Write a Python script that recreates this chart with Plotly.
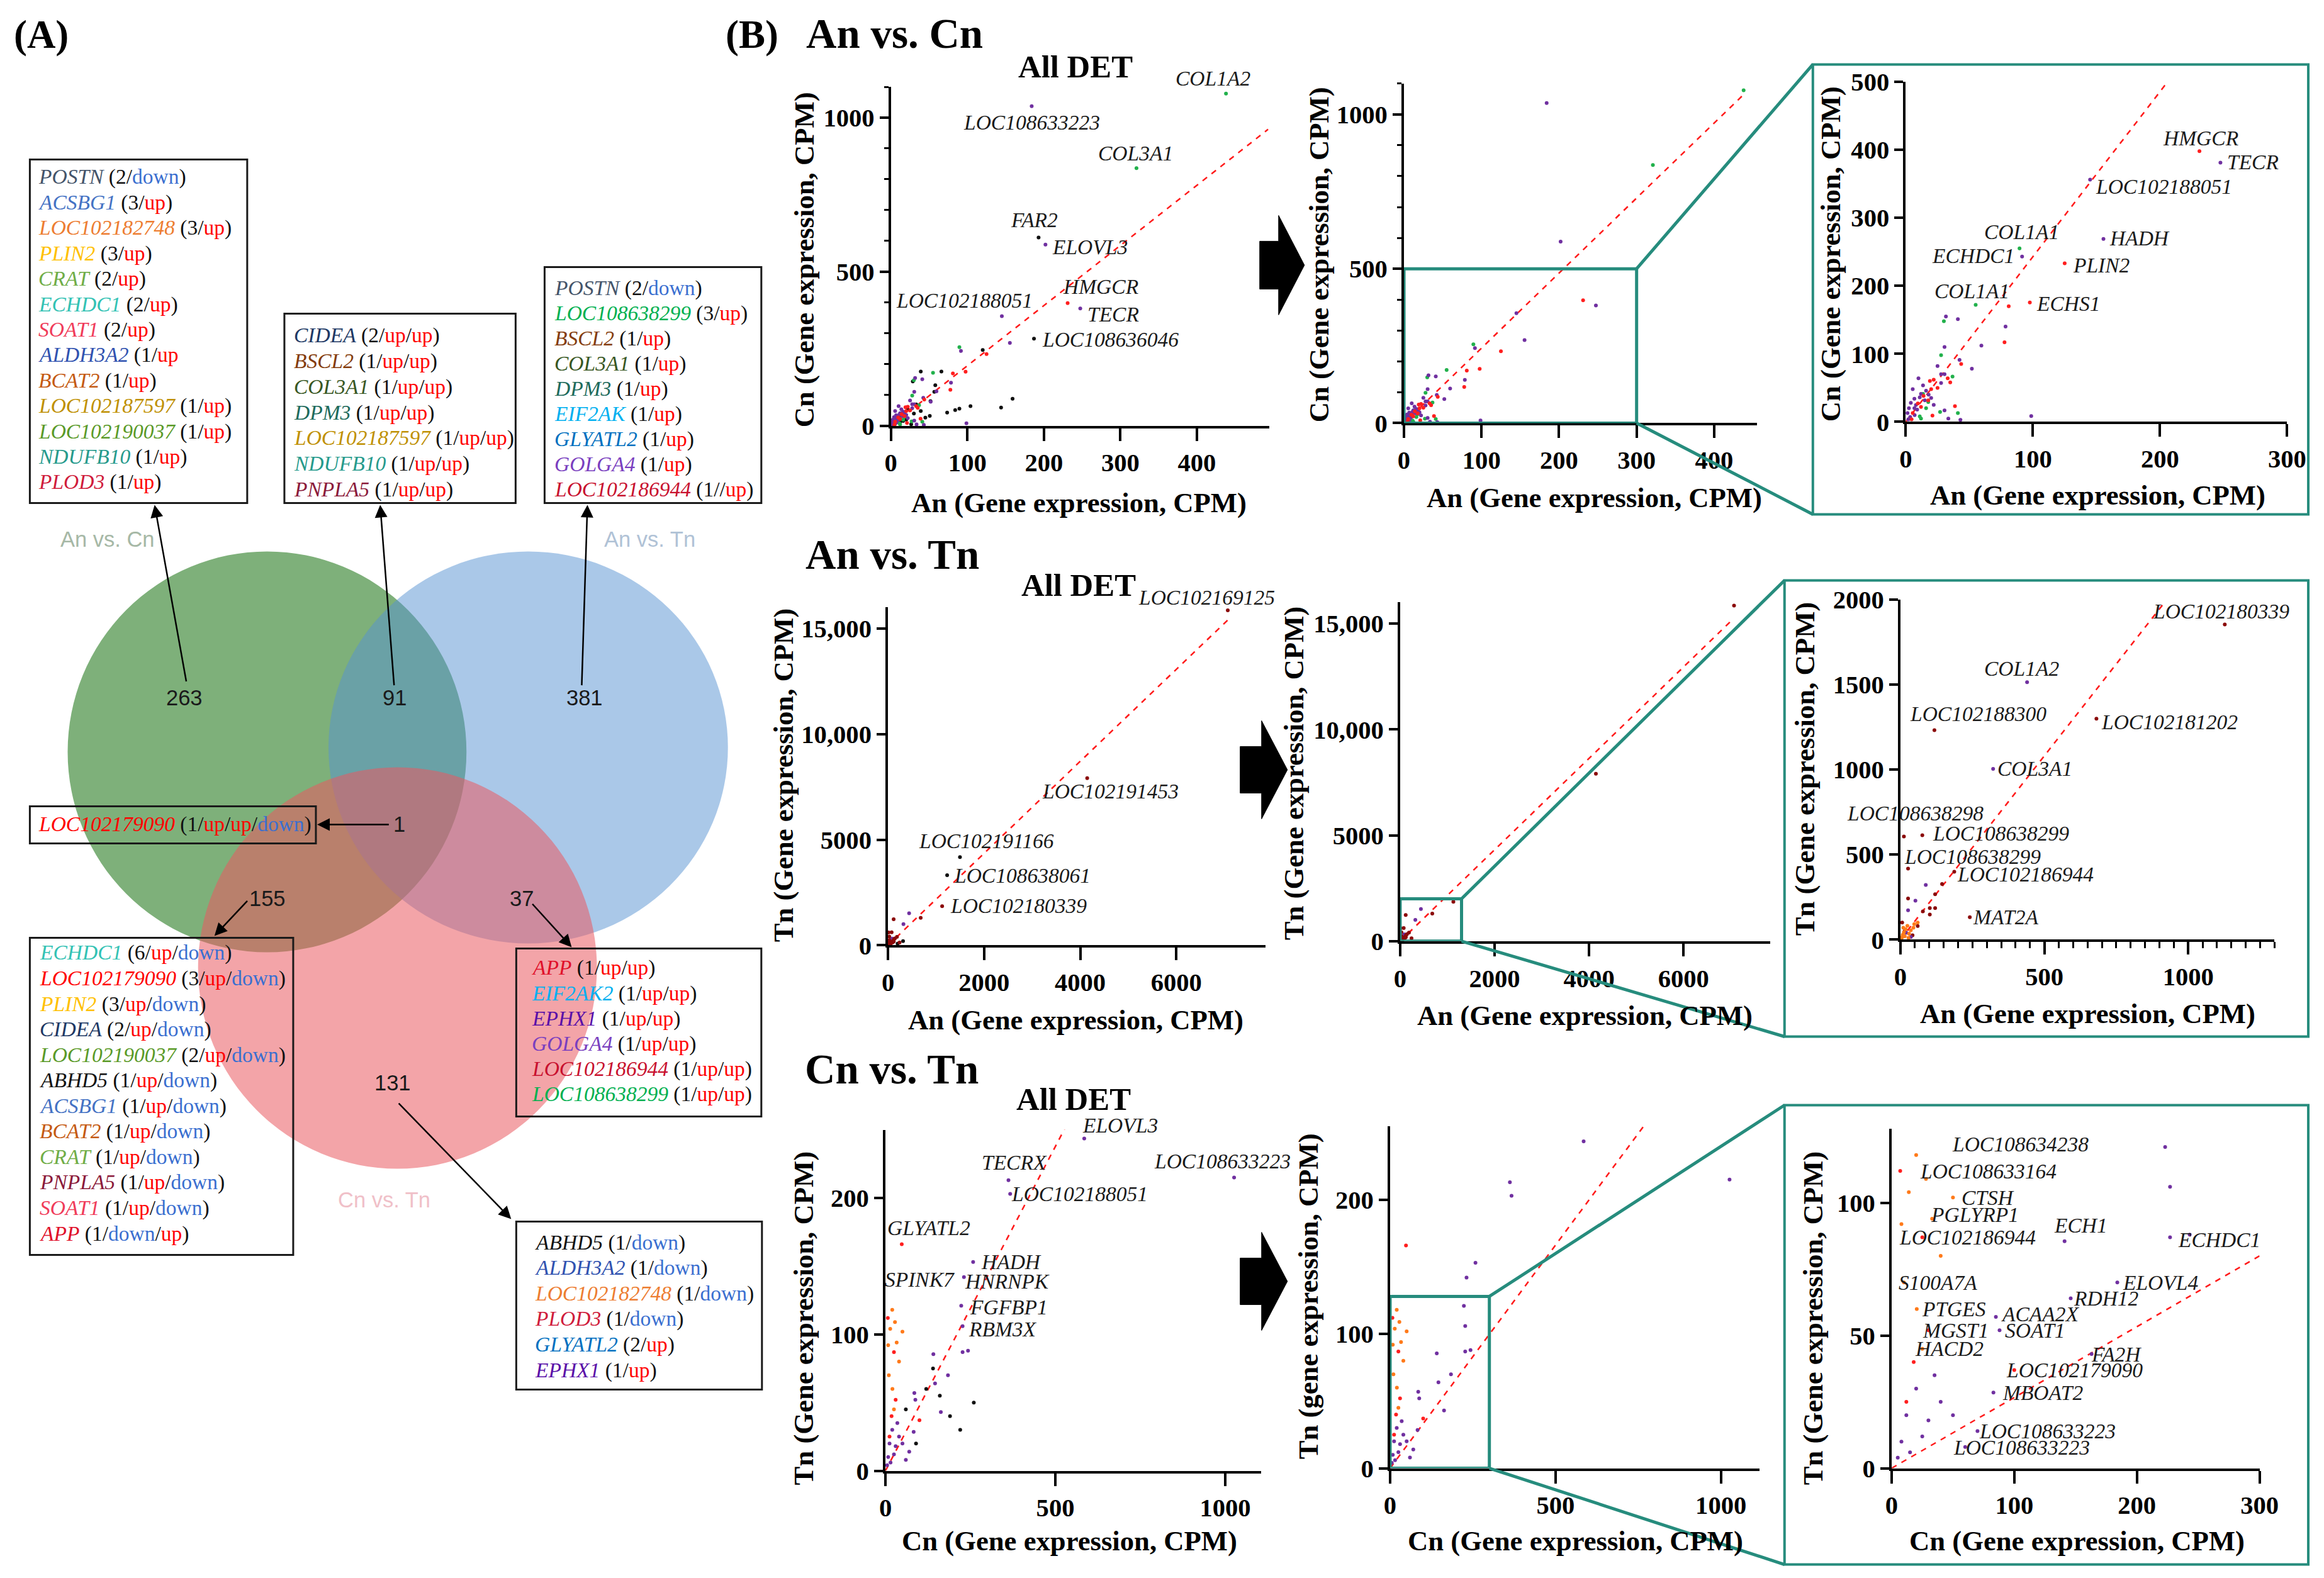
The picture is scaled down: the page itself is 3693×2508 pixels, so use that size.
import re
import plotly.graph_objects as go

W, H = 3693, 2508
# measured photo transform of this page (photo_px = S * figure_px + O); positions below are
# target positions in the photographed picture and are mapped back through it.
SX, OX = 0.988, 18.6
SY, OY = 0.982, 30.6
FS = 1 / 0.985

SERIF = "Liberation Serif, Times New Roman, serif"
SANS = "Liberation Sans Narrow, Arial Narrow, Liberation Sans, Arial, sans-serif"
UP_C, DOWN_C = "#ff0000", "#3a6fd0"
TEAL = "#268c7d"
C_PURPLE, C_GREEN, C_RED, C_BLACK = "#7030a0", "#22b14c", "#ff1f1f", "#111111"
C_DRED, C_ORANGE = "#8b0a0a", "#ff7a1a"

# ================= (A) Venn diagram data =================
venn_names = ["An vs. Cn", "An vs. Tn", "Cn vs. Tn"]
venn_counts = ["263", "91", "381", "1", "155", "37", "131"]

box_ac_genes = ["POSTN", "ACSBG1", "LOC102182748", "PLIN2", "CRAT", "ECHDC1", "SOAT1",
                "ALDH3A2", "BCAT2", "LOC102187597", "LOC102190037", "NDUFB10", "PLOD3"]
box_ac_tags = ["(2/down)", "(3/up)", "(3/up)", "(3/up)", "(2/up)", "(2/up)", "(2/up)",
               "(1/up", "(1/up)", "(1/up)", "(1/up)", "(1/up)", "(1/up)"]
box_acat_genes = ["CIDEA", "BSCL2", "COL3A1", "DPM3", "LOC102187597", "NDUFB10", "PNPLA5"]
box_acat_tags = ["(2/up/up)", "(1/up/up)", "(1/up/up)", "(1/up/up)", "(1/up/up)", "(1/up/up)", "(1/up/up)"]
box_at_genes = ["POSTN", "LOC108638299", "BSCL2", "COL3A1", "DPM3", "EIF2AK", "GLYATL2", "GOLGA4", "LOC102186944"]
box_at_tags = ["(2/down)", "(3/up)", "(1/up)", "(1/up)", "(1/up)", "(1/up)", "(1/up)", "(1/up)", "(1//up)"]
box_all_genes = ["LOC102179090"]
box_all_tags = ["(1/up/up/down)"]
box_acct_genes = ["ECHDC1", "LOC102179090", "PLIN2", "CIDEA", "LOC102190037", "ABHD5", "ACSBG1",
                  "BCAT2", "CRAT", "PNPLA5", "SOAT1", "APP"]
box_acct_tags = ["(6/up/down)", "(3/up/down)", "(3/up/down)", "(2/up/down)", "(2/up/down)", "(1/up/down)",
                 "(1/up/down)", "(1/up/down)", "(1/up/down)", "(1/up/down)", "(1/up/down)", "(1/down/up)"]
box_atct_genes = ["APP", "EIF2AK2", "EPHX1", "GOLGA4", "LOC102186944", "LOC108638299"]
box_atct_tags = ["(1/up/up)", "(1/up/up)", "(1/up/up)", "(1/up/up)", "(1/up/up)", "(1/up/up)"]
box_ct_genes = ["ABHD5", "ALDH3A2", "LOC102182748", "PLOD3", "GLYATL2", "EPHX1"]
box_ct_tags = ["(1/down)", "(1/down)", "(1/down)", "(1/down)", "(2/up)", "(1/up)"]

gene_colors = {
    "POSTN": "#44546a", "ACSBG1": "#4472c4", "LOC102182748": "#ed7d31", "PLIN2": "#ffc000",
    "CRAT": "#70ad47", "ECHDC1": "#33c2b4", "SOAT1": "#f03c5a", "ALDH3A2": "#3052b0",
    "BCAT2": "#c55a11", "LOC102187597": "#bf9000", "LOC102190037": "#5a9a28", "NDUFB10": "#269a8c",
    "PLOD3": "#d01c3c", "CIDEA": "#203864", "BSCL2": "#843c0c", "COL3A1": "#385723",
    "DPM3": "#1e6b5c", "PNPLA5": "#8b1a3a", "LOC108638299": "#00b050", "EIF2AK": "#00b0f0",
    "EIF2AK2": "#00b0f0", "GLYATL2": "#0070c0", "GOLGA4": "#7a3fbf", "LOC102186944": "#c8102e",
    "LOC102179090": "#ff0000", "ABHD5": "#111111", "APP": "#e0102a", "EPHX1": "#5a10a8",
}

# ================= (B) scatter data =================
# --- An vs. Cn ---
ac_green_x = [438, 321, 89.5, 55, 30, 27.8, 36.8, 41, 27, 13.6, 17.7, 12, 11, 16]
ac_green_y = [1078, 836, 255, 172, 148, 98, 66.6, 13, 14.4, 41, 29, 4.7, 8, 20]
ac_purple_x = [184, 202, 247.5, 145, 155.5, 91.5, 78.5, 59.5, 52, 31.6, 41, 30.5, 42.3, 25, 27.8, 30.5,
               27.8, 43, 33.5, 30.5, 98.7, 10, 13.6, 5.5, 15, 6.8, 11, 8, 3.5, 2, 6.8, 1.4, 12, 16, 4,
               9, 7, 2.5, 18, 20, 22]
ac_purple_y = [1037, 588, 381, 356, 269, 243, 140, 112, 78, 155, 151, 110, 91, 82, 70, 70,
               57, 3, 4.7, 16.8, 8.4, 64, 53.6, 48, 31.7, 34, 36, 24.7, 7, 3.7, 20, 13, 41, 45.7, 28,
               18, 10, 20, 40, 35, 25]
ac_red_x = [231, 125, 97.6, 81, 77.7, 43.6, 33, 35, 38.7, 21, 19, 22, 17.7, 20, 12, 5.5, 4.6, 9.5, 14, 25]
ac_red_y = [398, 233, 175.5, 170, 117, 85, 64, 58, 23, 9.3, 60, 62, 31.7, 48, 22, 13, 3.7, 27, 38, 50]
ac_black_x = [193, 187, 120, 66, 39, 28.6, 58, 56.7, 51.7, 159, 144, 104, 89.5, 84, 73.5, 50.8, 45, 33,
              14, 7.6, 3.4, 16, 22, 39, 26.5, 10, 20, 30, 5, 12]
ac_black_y = [611, 283, 246, 176, 176, 144, 131.6, 110, 80, 88, 59, 64, 55.6, 51, 42.8, 32, 26.7, 69.5,
              37, 21, 10.7, 16, 53.5, 48, 5, 30, 20, 40, 5, 12]
ac_fit_all_x, ac_fit_all_y = [0, 493], [0, 962]
ac_fit_x, ac_fit_y = [0, 437], [0, 1062]
ac_zoom_fit_x, ac_zoom_fit_y = [0, 206], [0, 500]

# --- An vs. Tn ---
at_dred_x = [7070, 4145, 1127, 681, 118, 12, 76, 26.5, 187, 241, 26.5, 120.5, 144.6, 78, 102, 120.5, 102,
             6, 42, 60, 15]
at_dred_y = [15850, 7910, 1855, 1300, 1232, 607, 614, 418, 399, 132, 242, 266.5, 327, 166, 185, 185, 147,
             100, 25, 80, 50]
at_purple_x = [440, 322, 88, 52, 26.5, 36, 20]
at_purple_y = [1515, 1005, 321, 229, 172, 15, 40]
at_orange_x = [24, 48, 12, 6, 30, 60, 18, 36, 8, 4, 15, 45, 10, 28]
at_orange_y = [81, 91, 43, 15, 34, 100, 60, 55, 28, 8, 20, 70, 70, 10]
at_black_x = [1498, 1231, 314, 100, 60, 200]
at_black_y = [4174, 3318, 200, 150, 250, 80]
at_fit_all_x, at_fit_all_y = [0, 7070], [0, 15389]
at_fit_x, at_fit_y = [0, 7020], [0, 15150]
at_zoom_fit_x, at_zoom_fit_y = [0, 916], [0, 1981]

# --- Cn vs. Tn ---
ct_purple_x = [585, 1026, 362, 367, 258, 231, 223, 227, 227, 243, 141, 184, 146, 85, 88, 163, 83, 70, 60,
               12, 20, 30, 40, 8, 15, 25, 50, 5, 35]
ct_purple_y = [243.5, 215, 213, 203, 153, 142, 121, 106, 87, 88, 85.5, 70, 64, 57, 52, 43, 28.5, 14, 8,
               20, 30, 18, 25, 10, 6, 12, 20, 4, 35]
ct_orange_x = [20, 50, 33, 10, 20.5, 25, 14, 28, 8, 40]
ct_orange_y = [118, 102, 94, 70, 60, 45, 104, 109, 92, 80]
ct_red_x = [7, 25, 30, 100, 48, 18, 12]
ct_red_y = [112, 87, 52, 37, 166, 40, 25]
ct_black_x = [120, 160, 190, 220, 260, 140, 90, 60]
ct_black_y = [60, 55, 40, 30, 50, 75, 20, 45]
ct_fit_all_x, ct_fit_all_y = [0, 528], [0, 251]
ct_fit_x, ct_fit_y = [0, 767], [0, 255]
ct_zoom_fit_x, ct_zoom_fit_y = [0, 300], [0, 80]

# --- point labels (text, x, y in data units) ---
lab_ac_all = [("COL1A2", 421, 1128), ("LOC108633223", 184, 984), ("COL3A1", 320, 884), ("FAR2", 187, 668),
              ("ELOVL3", 260, 581), ("HMGCR", 274, 452), ("TECR", 291, 361), ("LOC102188051", 96, 406),
              ("LOC108636046", 287, 280)]
lab_ac_zoom = [("HMGCR", 232, 417), ("TECR", 273, 382), ("LOC102188051", 203, 346), ("HADH", 184, 270),
               ("COL1A1", 91, 279), ("ECHDC1", 53, 244), ("PLIN2", 154, 230), ("COL1A1", 52, 192),
               ("ECHS1", 128, 174)]
lab_at_all = [("LOC102169125", 6635, 16449), ("LOC102191453", 4629, 7290), ("LOC102191166", 2053, 4953),
              ("LOC108638061", 2789, 3318), ("LOC102180339", 2722, 1869)]
lab_at_zoom = [("LOC102180339", 1114, 1934), ("COL1A2", 422, 1597), ("LOC102188300", 271, 1329),
               ("LOC102181202", 934, 1282), ("COL3A1", 466, 1008), ("LOC108638298", 52, 743),
               ("LOC108638299", 349, 626), ("LOC108638299", 251, 488), ("LOC102186944", 434, 384),
               ("MAT2A", 367, 132)]
lab_ct_all = [("ELOVL3", 690, 253), ("LOC108633223", 991, 227), ("TECRX", 380, 226),
              ("LOC102188051", 572, 203), ("GLYATL2", 127, 178), ("HADH", 371, 153), ("SPINK7", 100, 140),
              ("HNRNPK", 358, 139), ("FGFBP1", 362, 120), ("RBM3X", 345, 104)]
lab_ct_zoom = [("LOC108634238", 105, 122), ("LOC108633164", 78.6, 112), ("CTSH", 78.6, 102),
               ("PGLYRP1", 68, 95.5), ("LOC102186944", 62, 87), ("ECH1", 154, 91.6), ("ECHDC1", 267, 86),
               ("S100A7A", 37.5, 70), ("ELOVL4", 219, 70), ("RDH12", 175, 64), ("PTGES", 51, 60),
               ("ACAA2X", 121, 58), ("MGST1", 52, 52), ("SOAT1", 117, 52), ("HACD2", 47, 45),
               ("FA2H", 183, 43), ("LOC102179090", 149, 37), ("MBOAT2", 123, 28.5),
               ("LOC108633223", 127, 14), ("LOC108633223", 106, 7.8)]

# --- tick labels ---
tk_ac_x = [0, 100, 200, 300, 400]
tk_ac_y = [0, 500, 1000]
tk_acz_x = [0, 100, 200, 300]
tk_acz_y = [0, 100, 200, 300, 400, 500]
tk_at_x = [0, 2000, 4000, 6000]
tk_at_y = [0, 5000, 10000, 15000]
tk_at_y_text = ["0", "5000", "10,000", "15,000"]
tk_atz_x = [0, 500, 1000]
tk_atz_y = [0, 500, 1000, 1500, 2000]
tk_ct_x = [0, 500, 1000]
tk_ct_y = [0, 100, 200]
tk_ctz_x = [0, 100, 200, 300]
tk_ctz_y = [0, 50, 100]

# ================= layout geometry (target pixels) =================
panels = [
    dict(px=(1414.7, 2015.7), py=(677.3, 138.6), xr=[0, 495], yr=[0, 1100], xt=tk_ac_x, yt=tk_ac_y, ym=100),
    dict(px=(2229, 2789), py=(673, 133.4), xr=[0, 455], yr=[0, 1100], xt=tk_ac_x, yt=tk_ac_y, ym=100),
    dict(px=(3025.4, 3630.8), py=(671, 130.5), xr=[0, 300], yr=[0, 500], xt=tk_acz_x, yt=tk_acz_y),
    dict(px=(1410, 2009.6), py=(1503, 965.5), xr=[0, 7860], yr=[0, 16000], xt=tk_at_x, yt=tk_at_y, ytt=tk_at_y_text),
    dict(px=(2222.9, 2810.6), py=(1496.3, 958), xr=[0, 7840], yr=[0, 16000], xt=tk_at_x, yt=tk_at_y, ytt=tk_at_y_text),
    dict(px=(3017, 3610.8), py=(1493.8, 953.8), xr=[0, 1300], yr=[0, 2000], xt=tk_atz_x, yt=tk_atz_y, xm=50),
    dict(px=(1406, 2002), py=(2338, 1796), xr=[0, 1105], yr=[0, 250], xt=tk_ct_x, yt=tk_ct_y),
    dict(px=(2207, 2793), py=(2334, 1790), xr=[0, 1116], yr=[0, 255], xt=tk_ct_x, yt=tk_ct_y),
    dict(px=(3003, 3587), py=(2334, 1794), xr=[0, 300], yr=[0, 128], xt=tk_ctz_x, yt=tk_ctz_y),
]
axis_titles = [
    ("An (Gene expression, CPM)", "Cn (Gene expression, CPM)", (1713, 800), (1278, 413)),
    ("An (Gene expression, CPM)", "Cn (Gene expression, CPM)", (2531, 792), (2095, 405)),
    ("An (Gene expression, CPM)", "Cn (Gene expression, CPM)", (3330, 788), (2907, 404)),
    ("An (Gene expression, CPM)", "Tn (Gene expression, CPM)", (1708, 1622), (1245, 1233)),
    ("An (Gene expression, CPM)", "Tn (Gene expression, CPM)", (2516, 1615), (2055, 1230)),
    ("An (Gene expression, CPM)", "Tn (Gene expression, CPM)", (3314, 1612), (2866, 1223)),
    ("Cn (Gene expression, CPM)", "Tn (Gene expression, CPM)", (1698, 2449), (1276, 2096)),
    ("Cn (Gene expression, CPM)", "Tn (gene expression, CPM)", (2501, 2449), (2077, 2061)),
    ("Cn (Gene expression, CPM)", "Tn (Gene expression, CPM)", (3297, 2449), (2878, 2096)),
]
MAX_TX = OX + SX * (W - 3)  # rightmost target x reachable inside the figure


def PX(x):
    return (x - OX) / SX / W


def PY(y):
    return 1 - (y - OY) / SY / H


def fs(v):
    return round(v * FS, 1)


def to_px(p, x, y):
    X = p['px'][0] + (x - p['xr'][0]) / (p['xr'][1] - p['xr'][0]) * (p['px'][1] - p['px'][0])
    Y = p['py'][0] - (y - p['yr'][0]) / (p['yr'][1] - p['yr'][0]) * (p['py'][0] - p['py'][1])
    return X, Y


fig = go.Figure()
annotations = []
shapes = []


def axid(k):
    return ("x" if k == 1 else f"x{k}"), ("y" if k == 1 else f"y{k}")


def add_pts(k, xs, ys, color, clip=False):
    p = panels[k - 1]
    if clip:
        pts = [(a, b) for a, b in zip(xs, ys) if p['xr'][0] <= a <= p['xr'][1] and p['yr'][0] <= b <= p['yr'][1]]
        xs = [a for a, _ in pts]
        ys = [b for _, b in pts]
    xa, ya = axid(k)
    fig.add_trace(go.Scatter(x=xs, y=ys, mode="markers", marker=dict(size=6, color=color),
                             xaxis=xa, yaxis=ya, cliponaxis=False, hoverinfo="skip", showlegend=False))


def add_fit(k, xs, ys):
    xa, ya = axid(k)
    fig.add_trace(go.Scatter(x=xs, y=ys, mode="lines", line=dict(color="#ff1a1a", width=2.5, dash="dash"),
                             xaxis=xa, yaxis=ya, cliponaxis=False, hoverinfo="skip", showlegend=False))


def add_labels(k, labs):
    p = panels[k - 1]
    for t, x, y in labs:
        X, Y = to_px(p, x, y)
        annotations.append(dict(x=PX(X), y=PY(Y), xref="paper", yref="paper", text=f"<i>{t}</i>",
                                showarrow=False, font=dict(family=SERIF, size=fs(33), color="#1a1a1a"),
                                xanchor="center", yanchor="middle"))


# ---- row 1 ----
add_fit(1, ac_fit_all_x, ac_fit_all_y)
add_pts(1, ac_black_x, ac_black_y, C_BLACK)
add_pts(1, ac_green_x, ac_green_y, C_GREEN)
add_pts(1, ac_purple_x, ac_purple_y, C_PURPLE)
add_pts(1, ac_red_x, ac_red_y, C_RED)
add_fit(2, ac_fit_x, ac_fit_y)
add_pts(2, ac_green_x, ac_green_y, C_GREEN)
add_pts(2, ac_purple_x, ac_purple_y, C_PURPLE)
add_pts(2, ac_red_x, ac_red_y, C_RED)
add_fit(3, ac_zoom_fit_x, ac_zoom_fit_y)
add_pts(3, ac_green_x, ac_green_y, C_GREEN, clip=True)
add_pts(3, ac_purple_x, ac_purple_y, C_PURPLE, clip=True)
add_pts(3, ac_red_x, ac_red_y, C_RED, clip=True)
add_labels(1, lab_ac_all)
add_labels(3, lab_ac_zoom)
# ---- row 2 ----
add_fit(4, at_fit_all_x, at_fit_all_y)
add_pts(4, at_black_x, at_black_y, C_BLACK)
add_pts(4, at_orange_x, at_orange_y, C_ORANGE)
add_pts(4, at_purple_x, at_purple_y, C_PURPLE)
add_pts(4, at_dred_x, at_dred_y, C_DRED)
add_fit(5, at_fit_x, at_fit_y)
add_pts(5, at_orange_x, at_orange_y, C_ORANGE)
add_pts(5, at_purple_x, at_purple_y, C_PURPLE)
add_pts(5, at_dred_x, at_dred_y, C_DRED)
add_fit(6, at_zoom_fit_x, at_zoom_fit_y)
add_pts(6, at_dred_x, at_dred_y, C_DRED, clip=True)
add_pts(6, at_purple_x, at_purple_y, C_PURPLE, clip=True)
add_pts(6, at_orange_x, at_orange_y, C_ORANGE, clip=True)
add_labels(4, lab_at_all)
add_labels(6, lab_at_zoom)
# ---- row 3 ----
add_fit(7, ct_fit_all_x, ct_fit_all_y)
add_pts(7, ct_black_x, ct_black_y, C_BLACK)
add_pts(7, ct_orange_x, ct_orange_y, C_ORANGE)
add_pts(7, ct_purple_x, ct_purple_y, C_PURPLE)
add_pts(7, ct_red_x, ct_red_y, C_RED)
add_fit(8, ct_fit_x, ct_fit_y)
add_pts(8, ct_orange_x, ct_orange_y, C_ORANGE)
add_pts(8, ct_purple_x, ct_purple_y, C_PURPLE)
add_pts(8, ct_red_x, ct_red_y, C_RED)
add_fit(9, ct_zoom_fit_x, ct_zoom_fit_y)
add_pts(9, ct_orange_x, ct_orange_y, C_ORANGE, clip=True)
add_pts(9, ct_purple_x, ct_purple_y, C_PURPLE, clip=True)
add_pts(9, ct_red_x, ct_red_y, C_RED, clip=True)
add_labels(7, lab_ct_all)
add_labels(9, lab_ct_zoom)

# ---- axes ----
tickfont = dict(family=SERIF, size=fs(40), color="black", weight="bold")
layout_axes = {}
for k, p in enumerate(panels, start=1):
    xa, ya = axid(k)
    xd = [PX(p['px'][0]), PX(p['px'][1])]
    yd = [PY(p['py'][0]), PY(p['py'][1])]
    xax = dict(domain=xd, range=p['xr'], anchor=ya, showline=True, linewidth=4, linecolor="black",
               ticks="outside", ticklen=20, tickwidth=4, tickcolor="black", tickmode="array",
               tickvals=p['xt'], ticktext=[str(v) for v in p['xt']], tickfont=tickfont,
               showgrid=False, zeroline=False, fixedrange=True)
    yax = dict(domain=yd, range=p['yr'], anchor=xa, showline=True, linewidth=4, linecolor="black",
               ticks="outside", ticklen=14, tickwidth=4, tickcolor="black", tickmode="array",
               tickvals=p['yt'], ticktext=p.get('ytt', [str(v) for v in p['yt']]), tickfont=tickfont,
               showgrid=False, zeroline=False, fixedrange=True)
    if 'ym' in p:
        yax['minor'] = dict(dtick=p['ym'], ticks="outside", ticklen=7, tickwidth=3, tickcolor="black", showgrid=False)
    if 'xm' in p:
        xax['minor'] = dict(dtick=p['xm'], ticks="outside", ticklen=10, tickwidth=3, tickcolor="black", showgrid=False)
    layout_axes["xaxis" if k == 1 else f"xaxis{k}"] = xax
    layout_axes["yaxis" if k == 1 else f"yaxis{k}"] = yax
    xt, yt, (xtx, xty), (ytx, yty) = axis_titles[k - 1]
    annotations.append(dict(x=PX(xtx), y=PY(xty), xref="paper", yref="paper", text=f"<b>{xt}</b>",
                            showarrow=False, font=dict(family=SERIF, size=fs(44), color="black"),
                            xanchor="center", yanchor="middle"))
    annotations.append(dict(x=PX(ytx), y=PY(yty), xref="paper", yref="paper", text=f"<b>{yt}</b>",
                            showarrow=False, textangle=-90, font=dict(family=SERIF, size=fs(44), color="black"),
                            xanchor="center", yanchor="middle"))

# ---- teal zoom rectangles + connectors + frames ----
zoom_pairs = [(2, 3, (2878, 103, 3674, 818)), (5, 6, (2833, 923, 3674, 1648)), (8, 9, (2833, 1757, 3674, 2487))]
for src, dst, (fl, ft, fr, fb) in zoom_pairs:
    fr = min(fr, MAX_TX)
    ps, pd = panels[src - 1], panels[dst - 1]
    xa, ya = axid(src)
    shapes.append(dict(type="rect", xref=xa, yref=ya, x0=pd['xr'][0], y0=pd['yr'][0], x1=pd['xr'][1],
                       y1=pd['yr'][1], line=dict(color=TEAL, width=5)))
    tx, ty = to_px(ps, pd['xr'][1], pd['yr'][1])
    bx, by = to_px(ps, pd['xr'][1], pd['yr'][0])
    shapes.append(dict(type="line", xref="paper", yref="paper", x0=PX(tx), y0=PY(ty), x1=PX(fl), y1=PY(ft),
                       line=dict(color=TEAL, width=5)))
    shapes.append(dict(type="line", xref="paper", yref="paper", x0=PX(bx), y0=PY(by), x1=PX(fl), y1=PY(fb),
                       line=dict(color=TEAL, width=5)))
    shapes.append(dict(type="rect", xref="paper", yref="paper", x0=PX(fl), y0=PY(fb), x1=PX(fr), y1=PY(ft),
                       line=dict(color=TEAL, width=4)))

# ---- big black arrows ----
for xs0, xb, xt, yc, sh, hh in [(2000, 2030, 2071, 422, 38, 79), (1969, 2003, 2044, 1224, 37, 78),
                                (1969, 2003, 2044, 2037, 37, 78)]:
    pts = [(xs0, yc - sh), (xb, yc - sh), (xb, yc - hh), (xt, yc), (xb, yc + hh), (xb, yc + sh), (xs0, yc + sh)]
    path = "M " + " L ".join(f"{PX(a):.5f},{PY(b):.5f}" for a, b in pts) + " Z"
    shapes.append(dict(type="path", xref="paper", yref="paper", path=path, fillcolor="black",
                       line=dict(color="black", width=1)))

# ---- row titles ----
for txt, (x, y), sz in [("(A)", (66, 56), 62), ("(B)", (1194, 56), 62),
                        ("An vs. Cn", (1420, 54), 66), ("An vs. Tn", (1417, 882), 66),
                        ("Cn vs. Tn", (1416, 1700), 66),
                        ("All DET", (1708, 107), 50), ("All DET", (1713, 931), 50), ("All DET", (1705, 1747), 50)]:
    annotations.append(dict(x=PX(x), y=PY(y), xref="paper", yref="paper", text=f"<b>{txt}</b>",
                            showarrow=False, font=dict(family=SERIF, size=fs(sz), color="black"),
                            xanchor="center", yanchor="middle"))

# ---- Venn circles ----
for (l, t, r, b), fc in [((108, 877, 741, 1514), "rgb(126,176,122)"),
                         ((522, 877, 1156, 1500), "rgba(85,145,209,0.5)"),
                         ((315, 1220, 948, 1858), "rgba(233,90,97,0.55)")]:
    shapes.append(dict(type="circle", xref="paper", yref="paper", x0=PX(l), x1=PX(r), y0=PY(b), y1=PY(t),
                       fillcolor=fc, line=dict(width=0), layer="below"))

for name, (x, y), col in zip(venn_names, [(171, 858), (1032, 858), (610, 1907)],
                             ["#a6b8a6", "#b0c2d6", "#f0c0c8"]):
    annotations.append(dict(x=PX(x), y=PY(y), xref="paper", yref="paper", text=name, showarrow=False,
                            font=dict(family=SANS, size=fs(34), color=col), xanchor="center", yanchor="middle"))
for cnt, (x, y) in zip(venn_counts, [(293, 1110), (627, 1110), (929, 1110), (634, 1311),
                                     (425, 1429), (829, 1429), (624, 1722)]):
    annotations.append(dict(x=PX(x), y=PY(y), xref="paper", yref="paper", text=cnt, showarrow=False,
                            font=dict(family=SANS, size=fs(34), color="#1a1a1a"), xanchor="center", yanchor="middle"))


# ---- gene boxes ----
def fmt_tag(tag):
    return re.sub(r"(up|down)", lambda m: f"<span style='color:{UP_C if m.group(1) == 'up' else DOWN_C}'>{m.group(1)}</span>", tag)


boxes = [
    (box_ac_genes, box_ac_tags, (48, 254, 393, 800), 60, 282, 40.42),
    (box_acat_genes, box_acat_tags, (452, 499, 819, 800), 465, 534, 40.7),
    (box_at_genes, box_at_tags, (865, 425, 1209, 800), 879, 459, 40.0),
    (box_all_genes, box_all_tags, (48, 1282, 502, 1341), 60, 1311, 40.0),
    (box_acct_genes, box_acct_tags, (48, 1491, 466, 1995), 62, 1515, 40.55),
    (box_atct_genes, box_atct_tags, (820, 1508, 1209, 1775), 843, 1539, 40.2),
    (box_ct_genes, box_ct_tags, (820, 1942, 1210, 2209), 848, 1975, 40.6),
]
for genes, tags, (l, t, r, b), tx, ty0, dy in boxes:
    shapes.append(dict(type="rect", xref="paper", yref="paper", x0=PX(l), x1=PX(r), y0=PY(b), y1=PY(t),
                       line=dict(color="#1a1a1a", width=3), fillcolor="rgba(0,0,0,0)"))
    for i, (g, tg) in enumerate(zip(genes, tags)):
        txt = f"<i><span style='color:{gene_colors[g]}'>{g}</span></i> {fmt_tag(tg)}"
        annotations.append(dict(x=PX(tx), y=PY(ty0 + i * dy), xref="paper", yref="paper", text=txt,
                                showarrow=False, font=dict(family=SERIF, size=fs(33), color="#111111"),
                                xanchor="left", yanchor="middle"))

# ---- Venn arrows (head, tail) ----
for (hx, hy), (txx, tyy) in [((246, 803), (296, 1080)), ((604, 803), (626, 1086)), ((933, 803), (924, 1086)),
                             ((504, 1311), (618, 1311)), ((341, 1488), (394, 1432)), ((908, 1506), (845, 1437)),
                             ((812, 1938), (634, 1756))]:
    annotations.append(dict(x=PX(hx), y=PY(hy), xref="paper", yref="paper", text="", showarrow=True,
                            ax=(txx - hx) / SX, ay=(tyy - hy) / SY, axref="pixel", ayref="pixel", arrowhead=2,
                            arrowsize=1.6, arrowwidth=2.5, arrowcolor="black", standoff=0, startstandoff=0))

fig.update_layout(width=W, height=H, margin=dict(l=0, r=0, t=0, b=0), paper_bgcolor="white",
                  plot_bgcolor="rgba(0,0,0,0)", showlegend=False, font=dict(family=SERIF),
                  annotations=annotations, shapes=shapes, **layout_axes)

fig.write_html("out.html", config={"displayModeBar": False})
